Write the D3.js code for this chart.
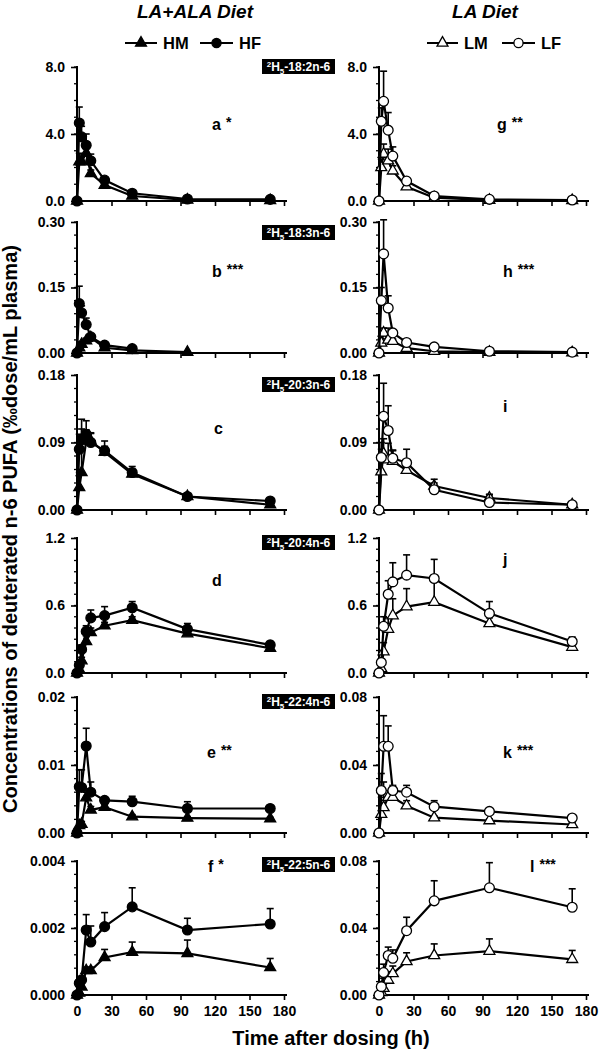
<!DOCTYPE html>
<html>
<head>
<meta charset="utf-8">
<script src="https://cdnjs.cloudflare.com/ajax/libs/d3/7.8.5/d3.min.js"></script>
<style>
  body { margin: 0; background: #fff; }
  svg text { font-family: "Liberation Sans", Arial, sans-serif; font-weight: bold; }
</style>
</head>
<body>
<div id="chart"></div>
<script>
// sampling times (h) and x axis ticks
var hours = [0, 2, 4, 8, 12, 24, 48, 96, 168];
var xTicks = [0, 30, 60, 90, 120, 150, 180];

// LA+ALA diet: means and SD (upper bar) per compound
var aHM = [0, 2.35, 2.35, 2.85, 1.65, 0.95, 0.30, 0.06, 0.04];
var aHMsd = [0, 0.5, 0.4, 0.3, 0.2, 0.1, 0.05, 0.02, 0.01];
var aHF = [0, 4.66, 3.83, 3.33, 2.40, 1.25, 0.46, 0.12, 0.10];
var aHFsd = [0, 0.95, 0.63, 0.67, 0.40, 0.12, 0.05, 0.02, 0.01];

var bHM = [0, 0.012, 0.020, 0.028, 0.035, 0.012, 0.006, 0.002, null];
var bHMsd = [0, 0.005, 0.006, 0.006, 0.006, 0.003, 0.001, 0.001, null];
var bHF = [0, 0.113, 0.092, 0.065, 0.037, 0.018, 0.010, null, null];
var bHFsd = [0, 0.040, 0.016, 0.015, 0.005, 0.002, 0.001, null, null];

var cHM = [0, 0.030, 0.050, 0.092, 0.092, 0.077, 0.048, 0.018, 0.007];
var cHMsd = [0, 0.020, 0.058, 0.015, 0.010, 0.008, 0.006, 0.003, 0.002];
var cHF = [0, 0.081, 0.094, 0.101, 0.090, 0.079, 0.050, 0.018, 0.012];
var cHFsd = [0, 0.020, 0.027, 0.018, 0.013, 0.013, 0.008, 0.003, 0.001];

var dHM = [0, 0.03, 0.11, 0.28, 0.36, 0.42, 0.47, 0.35, 0.22];
var dHMsd = [0, 0.01, 0.03, 0.05, 0.04, 0.03, 0.03, 0.02, 0.02];
var dHF = [0, 0.07, 0.21, 0.37, 0.49, 0.51, 0.58, 0.39, 0.25];
var dHFsd = [0, 0.02, 0.04, 0.05, 0.07, 0.08, 0.055, 0.05, 0.03];

var eHM = [0, 0.0011, 0.0013, 0.0052, 0.0034, 0.0038, 0.0024, 0.0022, 0.0021];
var eHMsd = [0, 0.0003, 0.0004, 0.0008, 0.0005, 0.0004, 0.0003, 0.0002, 0.0002];
var eHF = [0, 0.0068, 0.0067, 0.0128, 0.0060, 0.0048, 0.0046, 0.0036, 0.0036];
var eHFsd = [0, 0.0025, 0.0026, 0.0026, 0.0015, 0.0004, 0.0008, 0.0010, 0.0004];

var fHM = [0, 0.00006, 0.00024, 0.00073, 0.00073, 0.00112, 0.00128, 0.00124, 0.00082];
var fHMsd = [0, 0.00003, 0.0001, 0.0001, 0.0001, 0.00024, 0.0003, 0.0004, 0.00027];
var fHF = [0, 0.00035, 0.00045, 0.00194, 0.00158, 0.00204, 0.00263, 0.00194, 0.00212];
var fHFsd = [0, 0.0001, 0.0001, 0.00046, 0.00048, 0.00042, 0.00057, 0.00035, 0.00046];

// LA diet
var gLM = [0, 2.0, 2.8, 2.4, 1.8, 0.85, 0.20, 0.05, 0.04];
var gLMsd = [0, 0.5, 0.6, 0.7, 0.3, 0.1, 0.05, 0.02, 0.01];
var gLF = [0, 4.76, 5.95, 4.23, 2.68, 1.19, 0.30, 0.10, 0.06];
var gLFsd = [0, 0.8, 1.8, 1.05, 0.55, 0.2, 0.05, 0.02, 0.01];

var hLM = [0, 0.023, 0.046, 0.030, 0.027, 0.011, 0.004, 0.002, 0.001];
var hLMsd = [0, 0.010, 0.011, 0.027, 0.005, 0.002, 0.001, 0, 0];
var hLF = [0, 0.120, 0.227, 0.103, 0.046, 0.024, 0.014, 0.004, 0.002];
var hLFsd = [0, 0.030, 0.078, 0.028, 0.006, 0.003, 0.002, 0.001, 0.001];

var iLM = [0, 0.051, 0.075, 0.067, 0.065, 0.053, 0.032, 0.016, 0.007];
var iLMsd = [0, 0.030, 0.020, 0.022, 0.015, 0.006, 0.004, 0.004, 0.001];
var iLF = [0, 0.070, 0.125, 0.106, 0.069, 0.063, 0.027, 0.010, 0.007];
var iLFsd = [0, 0.020, 0.044, 0.033, 0.010, 0.018, 0.014, 0.011, 0.001];

var jLM = [0, 0.04, 0.19, 0.39, 0.51, 0.59, 0.63, 0.44, 0.23];
var jLMsd = [0, 0.02, 0.08, 0.10, 0.15, 0.16, 0.20, 0.05, 0.03];
var jLF = [0, 0.094, 0.415, 0.70, 0.81, 0.87, 0.84, 0.53, 0.28];
var jLFsd = [0, 0.03, 0.085, 0.12, 0.17, 0.18, 0.17, 0.105, 0.04];

var kLM = [0, 0.011, 0.015, 0.021, 0.021, 0.016, 0.009, 0.0073, 0.005];
var kLMsd = [0, 0.010, 0.015, 0.004, 0.006, 0.003, 0.001, 0.001, 0.001];
var kLF = [0, 0.025, 0.051, 0.051, 0.025, 0.024, 0.0155, 0.0127, 0.0088];
var kLFsd = [0, 0.010, 0.018, 0.012, 0.003, 0.004, 0.0035, 0.0015, 0.001];

var lLM = [0, 0.0016, 0.004, 0.0089, 0.0128, 0.020, 0.0236, 0.0262, 0.0213];
var lLMsd = [0, 0.001, 0.006, 0.005, 0.0045, 0.0052, 0.0069, 0.0073, 0.0053];
var lLF = [0, 0.005, 0.0134, 0.0236, 0.0219, 0.0384, 0.0562, 0.064, 0.0524];
var lLFsd = [0, 0.003, 0.005, 0.005, 0.005, 0.008, 0.012, 0.015, 0.011];

// y axis ticks per row
var yTicks = [[0, 4, 8], [0, 0.15, 0.30], [0, 0.09, 0.18], [0, 0.6, 1.2], [0, 0.01, 0.02], [0, 0.002, 0.004]];
var yTicksRight = [[0, 4, 8], [0, 0.15, 0.30], [0, 0.09, 0.18], [0, 0.6, 1.2], [0, 0.04, 0.08], [0, 0.04, 0.08]];
var yFormats = [".1f", ".2f", ".2f", ".1f", ".2f", ".3f"];
var yFormatsRight = [".1f", ".2f", ".2f", ".1f", ".2f", ".2f"];
var compounds = ["18:2n-6", "18:3n-6", "20:3n-6", "20:4n-6", "22:4n-6", "22:5n-6"];
var lettersLeft = [["a", "*"], ["b", "***"], ["c", ""], ["d", ""], ["e", "**"], ["f", "*"]];
var lettersRight = [["g", "**"], ["h", "***"], ["i", ""], ["j", ""], ["k", "***"], ["l", "***"]];

var left = [[aHM, aHMsd, aHF, aHFsd], [bHM, bHMsd, bHF, bHFsd], [cHM, cHMsd, cHF, cHFsd],
            [dHM, dHMsd, dHF, dHFsd], [eHM, eHMsd, eHF, eHFsd], [fHM, fHMsd, fHF, fHFsd]];
var right = [[gLM, gLMsd, gLF, gLFsd], [hLM, hLMsd, hLF, hLFsd], [iLM, iLMsd, iLF, iLFsd],
             [jLM, jLMsd, jLF, jLFsd], [kLM, kLMsd, kLF, kLFsd], [lLM, lLMsd, lLF, lLFsd]];

// layout
var W = 603, H = 1050;
var rows = [[67, 201], [222, 353], [375, 510], [538, 673], [697, 833], [861, 995]];
var cols = [[77, 284], [379, 586]];
var boxTops = [59, 225, 377, 535, 694, 857];
var letterPos = [
  [[212, 130], [212, 277], [214, 434], [212, 586], [207, 758], [208, 872]],
  [[497, 130], [503, 277], [503, 412], [503, 565], [503, 758], [530, 872]]
];

var svg = d3.select("#chart").append("svg")
  .attr("width", W).attr("height", H);

var triangle = d3.symbol().type(d3.symbolTriangle).size(52);

function drawPanel(col, row, data, ticks, fmt, letter, filled) {
  var x = d3.scaleLinear().domain([0, 180]).range(cols[col]);
  var y = d3.scaleLinear().domain([0, ticks[2]]).range([rows[row][1], rows[row][0]]);
  var g = svg.append("g");

  // minor y ticks
  var step = ticks[1] / (row === 0 ? 4 : (row === 3 ? 6 : 5));
  var minor = d3.range(0, ticks[2] + step / 2, step);
  g.selectAll(".minor").data(minor).enter().append("line")
    .attr("x1", cols[col][0] - 3).attr("x2", cols[col][0])
    .attr("y1", function (d) { return y(d); }).attr("y2", function (d) { return y(d); })
    .attr("stroke", "#000").attr("stroke-width", 1.3);

  var yAxis = d3.axisLeft(y).tickValues(ticks).tickFormat(d3.format(fmt)).tickSize(6).tickPadding(6);
  var ya = g.append("g").attr("transform", "translate(" + cols[col][0] + ",0)").call(yAxis);
  ya.select(".domain").attr("stroke-width", 2).attr("d", "M0," + (rows[row][0] - 1) + "V" + rows[row][1]);
  ya.selectAll(".tick line").attr("stroke-width", 1.6);
  ya.selectAll("text").attr("font-size", 14).attr("fill", "#000")
    .style("font-family", '"Liberation Sans", Arial, sans-serif').style("font-weight", "bold");

  var xAxis = d3.axisBottom(x).tickValues(xTicks).tickSize(5).tickSizeOuter(0)
    .tickFormat(row === 5 ? d3.format("d") : "");
  var xa = g.append("g").attr("transform", "translate(0," + rows[row][1] + ")").call(xAxis);
  xa.select(".domain").attr("stroke-width", 2).attr("d", "M" + cols[col][0] + ",0H" + (cols[col][1] + 3));
  xa.selectAll(".tick line").attr("stroke-width", 1.6);
  xa.selectAll("text").attr("font-size", 14).attr("fill", "#000").attr("dy", "0.95em")
    .style("font-family", '"Liberation Sans", Arial, sans-serif').style("font-weight", "bold");

  // series: male (triangle) then female (circle)
  [0, 2].forEach(function (k) {
    var pts = hours.map(function (t, i) {
      return { t: t, v: data[k][i], sd: data[k + 1][i] };
    }).filter(function (p) { return p.v !== null; });

    var line = d3.line().x(function (p) { return x(p.t); }).y(function (p) { return y(p.v); });
    g.append("path").datum(pts).attr("d", line)
      .attr("fill", "none").attr("stroke", "#000").attr("stroke-width", 2.2);

    var top = function (p) { return y(Math.min(p.v + p.sd, ticks[2] * 1.03)); };
    var err = g.selectAll(null).data(pts.filter(function (p) { return p.sd > 0; })).enter().append("g");
    err.append("line")
      .attr("x1", function (p) { return x(p.t); }).attr("x2", function (p) { return x(p.t); })
      .attr("y1", function (p) { return y(p.v); }).attr("y2", top)
      .attr("stroke", "#000").attr("stroke-width", 1.6);
    err.append("line")
      .attr("x1", function (p) { return x(p.t) - 3.5; }).attr("x2", function (p) { return x(p.t) + 3.5; })
      .attr("y1", top).attr("y2", top)
      .attr("stroke", "#000").attr("stroke-width", 1.6);

    var fill = filled ? "#000" : "#fff";
    if (k === 0) {
      g.selectAll(null).data(pts).enter().append("path")
        .attr("d", triangle)
        .attr("transform", function (p) { return "translate(" + x(p.t) + "," + y(p.v) + ")"; })
        .attr("fill", fill).attr("stroke", "#000").attr("stroke-width", 1.3);
    } else {
      g.selectAll(null).data(pts).enter().append("circle")
        .attr("cx", function (p) { return x(p.t); }).attr("cy", function (p) { return y(p.v); })
        .attr("r", 4.9)
        .attr("fill", fill).attr("stroke", "#000").attr("stroke-width", 1.3);
    }
  });

  // panel letter with significance stars
  var lp = letterPos[col][row];
  var lt = g.append("text").attr("x", lp[0]).attr("y", lp[1]).attr("font-size", 16).text(letter[0]);
  if (letter[1]) {
    lt.append("tspan").attr("dx", 5).attr("dy", -3).attr("font-size", 14).text(letter[1]);
  }
}

for (var r = 0; r < 6; r++) {
  drawPanel(0, r, left[r], yTicks[r], yFormats[r], lettersLeft[r], true);
  drawPanel(1, r, right[r], yTicksRight[r], yFormatsRight[r], lettersRight[r], false);

  // compound label box
  svg.append("rect").attr("x", 262).attr("y", boxTops[r]).attr("width", 73).attr("height", 15).attr("fill", "#000");
  var bt = svg.append("text").attr("x", 298.5).attr("y", boxTops[r] + 12).attr("text-anchor", "middle")
    .attr("fill", "#fff").attr("font-size", 12);
  bt.append("tspan").attr("font-size", 8).attr("dy", -4).text("2");
  bt.append("tspan").attr("dy", 4).text("H");
  bt.append("tspan").attr("font-size", 8).attr("dy", 3).text("5");
  bt.append("tspan").attr("dy", -3).text("-" + compounds[r]);
}

// column titles
svg.append("text").attr("x", 195).attr("y", 18).attr("text-anchor", "middle")
  .attr("font-size", 19).attr("font-style", "italic").text("LA+ALA Diet");
svg.append("text").attr("x", 485).attr("y", 18).attr("text-anchor", "middle")
  .attr("font-size", 19).attr("font-style", "italic").text("LA Diet");

// legends
var legend = [
  { x1: 125, x2: 157, label: "HM", tri: true, fill: "#000" },
  { x1: 200, x2: 233, label: "HF", tri: false, fill: "#000" },
  { x1: 427, x2: 458, label: "LM", tri: true, fill: "#fff" },
  { x1: 502, x2: 535, label: "LF", tri: false, fill: "#fff" }
];
legend.forEach(function (l) {
  var ly = 43;
  svg.append("line").attr("x1", l.x1).attr("x2", l.x2).attr("y1", ly).attr("y2", ly)
    .attr("stroke", "#000").attr("stroke-width", 2);
  var cx = (l.x1 + l.x2) / 2;
  if (l.tri) {
    svg.append("path").attr("d", triangle).attr("transform", "translate(" + cx + "," + ly + ")")
      .attr("fill", l.fill).attr("stroke", "#000").attr("stroke-width", 1.3);
  } else {
    svg.append("circle").attr("cx", cx).attr("cy", ly).attr("r", 4.6)
      .attr("fill", l.fill).attr("stroke", "#000").attr("stroke-width", 1.3);
  }
  svg.append("text").attr("x", l.x2 + 6).attr("y", ly + 6).attr("font-size", 16.5).text(l.label);
});

// axis titles
svg.append("text").attr("x", 331).attr("y", 1045).attr("text-anchor", "middle")
  .attr("font-size", 20).text("Time after dosing (h)");
svg.append("text").attr("transform", "translate(17,529) rotate(-90)").attr("text-anchor", "middle")
  .attr("font-size", 20).text("Concentrations of deuterated n-6 PUFA (\u2030dose/mL plasma)");
</script>
</body>
</html>
